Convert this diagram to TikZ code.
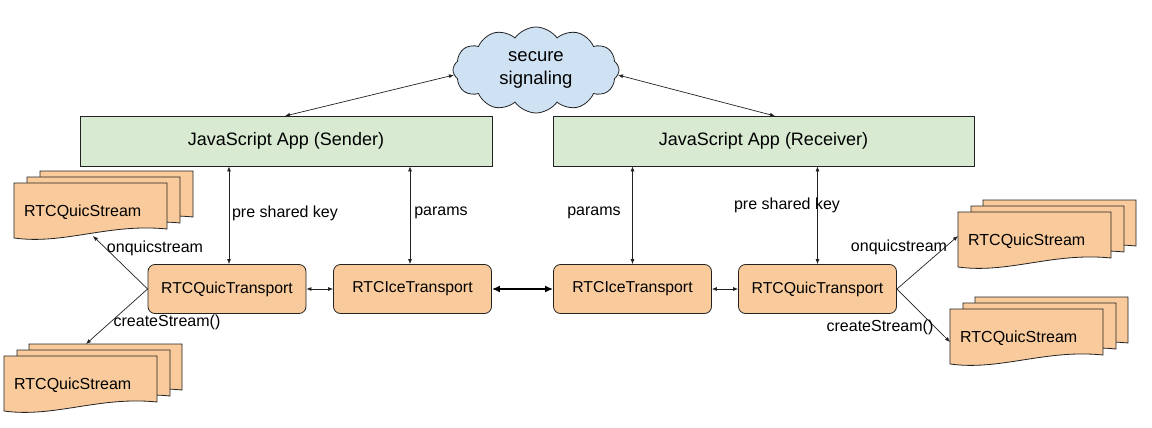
\documentclass[tikz,border=0pt]{standalone}
\usepackage{fontspec}
\setmainfont{Liberation Sans}
\usetikzlibrary{shapes.symbols,arrows.meta,calc}
\definecolor{orfill}{HTML}{F9CB9C}
\definecolor{grfill}{HTML}{D9EAD3}
\definecolor{clfill}{HTML}{CFE2F3}
\definecolor{edge}{HTML}{222222}
\tikzset{
  app/.style={draw=edge,fill=grfill,line width=0.8pt,minimum height=50pt,inner sep=0pt,font=\fontsize{18}{21}\selectfont},
  trans/.style={draw=edge,fill=orfill,line width=0.8pt,rounded corners=7pt,minimum width=158pt,minimum height=49pt,inner sep=0pt,font=\fontsize{15.8}{18}\selectfont},
  docst/.style={draw=edge,fill=orfill,line width=0.8pt},
  doctext/.style={anchor=west,inner sep=0pt,font=\fontsize{16}{18}\selectfont},
  lbl/.style={inner sep=1pt,font=\fontsize{16}{19}\selectfont},
  conn/.style={line width=0.7pt,draw=edge,{Latex[length=5pt,width=4pt]}-{Latex[length=5pt,width=4pt]}},
  oneway/.style={line width=0.7pt,draw=edge,-{Latex[length=5pt,width=4pt]}},
  thick conn/.style={line width=1.6pt,draw=black,{Latex[length=8pt,width=7pt]}-{Latex[length=8pt,width=7pt]}},
}
\newcommand\qdoc[2]{%
  \filldraw[docst] (#1+153,#2) -- (#1,#2) -- (#1,#2+55) .. controls (#1+50,#2+62) and (#1+95,#2+40) .. (#1+153,#2+46) -- cycle;}
\begin{document}
\begin{tikzpicture}[x=1pt,y=-1pt]
\useasboundingbox (0,0) rectangle (1152,428);
\fill[white] (0,0) rectangle (1152,428);

% cloud
\node[cloud,cloud puffs=12,cloud puff arc=110,aspect=1.9,draw=edge,fill=clfill,line width=0.8pt,
  minimum width=166pt,minimum height=86pt,inner sep=0pt,align=center,font=\fontsize{18.5}{23}\selectfont]
  (cloud) at (536,70) {secure\\signaling};

% apps
\node[app,minimum width=412pt] (sender) at (286,141) {JavaScript App (Sender)};
\node[app,minimum width=421pt] (receiver) at (763.5,141) {JavaScript App (Receiver)};

% transports
\node[trans] (qL) at (227,289) {RTCQuicTransport};
\node[trans] (iL) at (412.5,289) {RTCIceTransport};
\node[trans] (iR) at (632.5,289) {RTCIceTransport};
\node[trans] (qR) at (817.5,289) {RTCQuicTransport};

% documents top-left
\qdoc{40}{171}\qdoc{27}{177}\qdoc{14}{183}
\node[doctext] (dTL) at (24,212) {RTCQuicStream};
% bottom-left
\qdoc{29}{344}\qdoc{17}{350}\qdoc{4}{356}
\node[doctext] (dBL) at (14,385) {RTCQuicStream};
% top-right
\qdoc{983}{200}\qdoc{971}{206}\qdoc{958}{212}
\node[doctext] (dTR) at (968,241) {RTCQuicStream};
% bottom-right
\qdoc{975}{297}\qdoc{963}{303}\qdoc{950}{309}
\node[doctext] (dBR) at (960,338) {RTCQuicStream};

\coordinate (tTL) at (93,236);
\coordinate (tBL) at (86,344);
\coordinate (tTR) at (958,236);
\coordinate (tBR) at (950,342);

% cloud connectors
\coordinate (cL) at (454,75);
\coordinate (cR) at (618,75);
\coordinate (sTop) at (285,116);
\coordinate (rTop) at (775,116);
\draw[conn] (sTop) -- (cL);
\draw[conn] (cR) -- (rTop);

% vertical connectors
\draw[conn] ([xshift=2pt]qL.north) -- ([xshift=2pt]qL.north |- sender.south);
\draw[conn] ([xshift=-2.5pt]iL.north) -- ([xshift=-2.5pt]iL.north |- sender.south);
\draw[conn] (iR.north) -- (iR.north |- receiver.south);
\draw[conn] (qR.north) -- (qR.north |- receiver.south);

\node[lbl] (l1) at (285,213) {pre shared key};
\node[lbl] (l2) at (441,213) {params};
\node[lbl] (l3) at (594,213) {params};
\node[lbl] (l4) at (787,205) {pre shared key};

% horizontal connectors
\draw[conn] (qL.east) -- (iL.west);
\draw[thick conn] (iL.east) -- (iR.west);
\draw[conn] (iR.east) -- (qR.west);

% stream connectors
\draw[oneway] (qL.west) -- (tTL);
\draw[oneway] (qL.west) -- (tBL);
\draw[oneway] (qR.east) -- (tTR);
\draw[oneway] (qR.east) -- (tBR);
\node[lbl] (o1) at (155,248) {onquicstream};
\node[lbl] (c1) at (167,322) {createStream()};
\node[lbl] (o2) at (899,247) {onquicstream};
\node[lbl] (c2) at (880,327) {createStream()};
\end{tikzpicture}
\end{document}
